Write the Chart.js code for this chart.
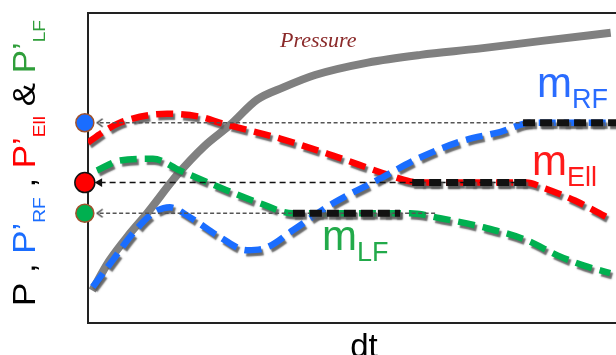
<!DOCTYPE html>
<html>
<head>
<meta charset="utf-8">
<script src="https://cdn.jsdelivr.net/npm/chart.js@4.4.0/dist/chart.umd.min.js"></script>
<style>
  html, body { margin: 0; padding: 0; background: #fff; }
  canvas { display: block; }
</style>
</head>
<body>
<canvas id="chart" width="616" height="355"></canvas>
<script>
// --- data (dt on 0..100, values on 0..100) ---
const pressureT = [0.8, 4, 8, 11, 17, 22, 27, 32, 37, 43, 53, 63, 74, 86, 99];
const pressureP = [10.5, 20, 29, 35, 48, 57, 64, 72, 76, 80, 84, 86.5, 88.5, 91, 93.6];

const rfLevel = 64.6;
const ellLevel = 45.3;
const lfLevel = 35.4;

const rfT = [0.9, 4.7, 8.5, 12.3, 15.5, 19.3, 25, 30.1, 33.9, 38.8, 46.4, 54.7, 62.9, 71, 78, 84, 99.5];
const rfY = [11.6, 20.3, 28.9, 35.4, 37.3, 34.1, 27.7, 23.5, 24.4, 29.9, 38.6, 46, 53.4, 58.8, 61.6, rfLevel, rfLevel];

const ellT = [0, 2.7, 6, 15, 21, 25.6, 36.4, 46.4, 57.2, 61, 65, 83, 86.6, 92.2, 98.3];
const ellY = [58.2, 61.4, 64.6, 67.5, 66.6, 64.3, 59.5, 54, 47.6, 45.7, ellLevel, ellLevel, 43.4, 39.5, 34.1];

const lfT = [1.7, 6, 12.3, 17.4, 25, 32.6, 38.8, 50, 61, 66.7, 74.8, 83.1, 88.8, 93.8, 98.9];
const lfY = [49.2, 52.4, 53, 49.2, 43.7, 38.6, lfLevel, lfLevel, lfLevel, 33.8, 30.9, 26.7, 21.9, 18.6, 16.1];

// flat stretches of each derivative: [start, end]
const rfFlat = [82.4, 100];
const ellFlat = [61.4, 83.3];
const lfFlat = [38.8, 59.1];

// read-back arrows: tip near the axis, tail end
const arrowTip = 2.2;
const arrowEnds = [83.5, 83.3, 66];

const slopeSubs = ['RF', 'Ell', 'LF'];

// --- colours ---
const BLUE = '#1a6dff';
const RED = '#ff0000';
const GREEN = '#00b050';
const GRAY = '#808080';

const pts = (xs, ys) => xs.map((x, i) => ({ x: x, y: ys[i] }));
const flat = (range, level) => range.map(x => ({ x: x, y: level }));

// small open arrowhead
const chevron = document.createElement('canvas');
chevron.width = 8; chevron.height = 10;
const cc = chevron.getContext('2d');
cc.strokeStyle = '#333'; cc.lineWidth = 1.3;
cc.beginPath(); cc.moveTo(7, 1); cc.lineTo(1.5, 5); cc.lineTo(7, 9); cc.stroke();

const dashed = (data, color, order) => ({
  data: data, borderColor: color, borderWidth: 6.5, borderDash: [17, 8],
  borderCapStyle: 'butt', pointRadius: 0, cubicInterpolationMode: 'monotone',
  shadow: true, order: order
});

const plateau = (range, level) => ({
  data: flat(range, level), borderColor: '#111', borderWidth: 7, borderDash: [12, 5],
  pointRadius: 0, shadow: true, order: 1
});

const arrow = (level, end, color, dash, head) => ({
  data: [{ x: arrowTip, y: level }, { x: end, y: level }],
  borderColor: color, borderWidth: 1.5, borderDash: dash,
  pointStyle: head, pointRotation: head === 'triangle' ? 270 : 0,
  pointRadius: [5, 0], pointBackgroundColor: '#111', pointBorderColor: '#111', pointBorderWidth: 0,
  order: 2
});

// gray drop shadow under the dashed curves
const shadowPlugin = {
  id: 'shadow',
  beforeDatasetDraw(chart, args) {
    if (!chart.data.datasets[args.index].shadow) return;
    const ctx = chart.ctx;
    ctx.save();
    ctx.shadowColor = 'rgba(90,90,90,0.9)';
    ctx.shadowOffsetX = 2;
    ctx.shadowOffsetY = 3;
    ctx.shadowBlur = 1.5;
  },
  afterDatasetDraw(chart, args) {
    if (chart.data.datasets[args.index].shadow) chart.ctx.restore();
  }
};

// text: curve names, axis titles
const textPlugin = {
  id: 'texts',
  afterDraw(chart) {
    const ctx = chart.ctx;
    ctx.save();
    ctx.textBaseline = 'alphabetic';
    ctx.textAlign = 'left';

    ctx.font = 'italic 22px "Liberation Serif"';
    ctx.fillStyle = '#8b2a2a';
    ctx.fillText('Pressure', 280, 47);

    const spots = [[537, 97, '#2a6cff'], [532, 175, '#ff1a1a'], [322, 250, '#22aa4a']];
    spots.forEach((s, i) => {
      ctx.fillStyle = s[2];
      ctx.font = '42px "Liberation Sans"';
      ctx.fillText('m', s[0], s[1]);
      const w = ctx.measureText('m').width;
      ctx.font = '27px "Liberation Sans"';
      ctx.fillText(slopeSubs[i], s[0] + w, s[1] + 11);
    });

    ctx.fillStyle = '#000';
    ctx.font = '33px "Liberation Sans"';
    ctx.textAlign = 'center';
    ctx.fillText('dt', 364, 357);

    // vertical multi-colour axis title
    const parts = [
      ['P', '#000', false], [' , ', '#000', false],
      ['P\u2019', BLUE, false], ['RF', BLUE, true], [' , ', '#000', false],
      ['P\u2019', RED, false], ['Ell', RED, true], [' & ', '#000', false],
      ['P\u2019', '#2f9e3a', false], ['LF', '#2f9e3a', true]
    ];
    const mainFont = '31px "Liberation Sans"';
    const subFont = '17px "Liberation Sans"';
    let total = 0;
    parts.forEach(p => { ctx.font = p[2] ? subFont : mainFont; total += ctx.measureText(p[0]).width; });
    const span = 306 - 20;
    ctx.textAlign = 'left';
    ctx.translate(35, 306);
    ctx.rotate(-Math.PI / 2);
    ctx.scale(span / total, 1);
    let x = 0;
    parts.forEach(p => {
      ctx.font = p[2] ? subFont : mainFont;
      ctx.fillStyle = p[1];
      ctx.fillText(p[0], x, p[2] ? 10 : 0);
      x += ctx.measureText(p[0]).width;
    });
    ctx.restore();
  }
};

new Chart(document.getElementById('chart'), {
  type: 'line',
  data: {
    datasets: [
      { data: pts(pressureT, pressureP), borderColor: GRAY, borderWidth: 8, pointRadius: 0,
        cubicInterpolationMode: 'monotone', borderCapStyle: 'butt', order: 6 },
      dashed(pts(lfT, lfY), GREEN, 5),
      dashed(pts(ellT, ellY), RED, 4),
      dashed(pts(rfT, rfY), BLUE, 3),
      arrow(rfLevel, arrowEnds[0], '#555', [4, 2.5], chevron),
      arrow(ellLevel, arrowEnds[1], '#111', [6, 4], 'triangle'),
      arrow(lfLevel, arrowEnds[2], '#555', [4, 2.5], chevron),
      plateau(rfFlat, rfLevel),
      plateau(ellFlat, ellLevel),
      plateau(lfFlat, lfLevel),
      { type: 'bubble', data: [{ x: -0.6, y: rfLevel }, { x: -0.6, y: ellLevel }, { x: -0.6, y: lfLevel }],
        radius: [9, 10, 9], backgroundColor: [BLUE, RED, GREEN],
        borderColor: ['#a0522d', '#111', '#a0522d'], borderWidth: 1.5, clip: false, order: 0 }
    ]
  },
  options: {
    responsive: false,
    animation: false,
    layout: { padding: 0, autoPadding: false },
    plugins: { legend: { display: false }, tooltip: { enabled: false } },
    scales: {
      x: {
        type: 'linear', min: 0, max: 100, position: 'bottom',
        grid: { display: false }, ticks: { display: false },
        border: { display: true, color: '#222', width: 2 },
        afterFit: s => { s.height = 32; }
      },
      xTop: {
        type: 'linear', min: 0, max: 100, position: 'top',
        grid: { display: false }, ticks: { display: false },
        border: { display: true, color: '#222', width: 2 },
        afterFit: s => { s.height = 13; }
      },
      y: {
        type: 'linear', min: 0, max: 100,
        grid: { display: false }, ticks: { display: false },
        border: { display: true, color: '#222', width: 2 },
        afterFit: s => { s.width = 88; }
      }
    }
  },
  plugins: [shadowPlugin, textPlugin]
});
</script>
</body>
</html>
